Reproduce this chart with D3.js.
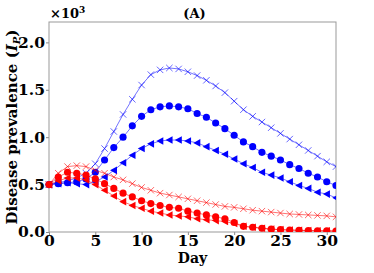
<!DOCTYPE html>
<html>
<head>
<meta charset="utf-8">
<script src="https://cdn.jsdelivr.net/npm/d3@7"></script>
<style>
  body { margin: 0; background: #fff; }
  text { font-family: "DejaVu Serif", serif; font-weight: bold; }
</style>
</head>
<body>
<div id="chart"></div>
<script>
// values in thousands
const days = d3.range(0, 32);
const blueCross = [0.50, 0.52, 0.54, 0.57, 0.62, 0.72, 0.88, 1.06, 1.24, 1.40, 1.55, 1.66, 1.71, 1.73, 1.72, 1.69,
  1.65, 1.60, 1.54, 1.47, 1.38, 1.29, 1.22, 1.16, 1.10, 1.04, 0.98, 0.92, 0.86, 0.80, 0.74, 0.69];
const blueCircle = [0.50, 0.51, 0.52, 0.53, 0.56, 0.63, 0.76, 0.89, 1.00, 1.12, 1.22, 1.29, 1.32, 1.33, 1.32, 1.30,
  1.25, 1.21, 1.15, 1.09, 1.02, 0.95, 0.90, 0.84, 0.80, 0.76, 0.71, 0.67, 0.62, 0.58, 0.53, 0.49];
const blueTri = [0.50, 0.51, 0.52, 0.51, 0.50, 0.53, 0.58, 0.65, 0.73, 0.81, 0.88, 0.93, 0.96, 0.97, 0.97, 0.96,
  0.94, 0.90, 0.86, 0.82, 0.77, 0.72, 0.68, 0.63, 0.60, 0.57, 0.53, 0.49, 0.46, 0.42, 0.40, 0.36];
const redCross = [0.50, 0.62, 0.69, 0.70, 0.69, 0.65, 0.62, 0.58, 0.55, 0.51, 0.47, 0.44, 0.41, 0.39, 0.37, 0.35,
  0.33, 0.31, 0.29, 0.27, 0.26, 0.245, 0.23, 0.22, 0.21, 0.20, 0.19, 0.185, 0.18, 0.175, 0.17, 0.16];
const redCircle = [0.50, 0.58, 0.63, 0.62, 0.60, 0.56, 0.51, 0.46, 0.41, 0.37, 0.33, 0.30, 0.28, 0.26, 0.25, 0.22,
  0.20, 0.18, 0.16, 0.14, 0.10, 0.06, 0.05, 0.04, 0.03, 0.025, 0.02, 0.018, 0.015, 0.013, 0.012, 0.01];
const redTri = [0.50, 0.54, 0.57, 0.57, 0.55, 0.50, 0.44, 0.38, 0.32, 0.28, 0.25, 0.22, 0.20, 0.18, 0.17, 0.16,
  0.14, 0.13, 0.12, 0.11, 0.09, 0.06, 0.05, 0.04, 0.03, 0.025, 0.02, 0.018, 0.015, 0.013, 0.012, 0.01];

const xTicks = [0, 5, 10, 15, 20, 25, 30];
const yTicks = [0, 0.5, 1.0, 1.5, 2.0];

const series = [
  { values: blueCross, color: "blue", marker: "cross" },
  { values: blueCircle, color: "blue", marker: "circle" },
  { values: blueTri, color: "blue", marker: "tri" },
  { values: redCross, color: "red", marker: "cross" },
  { values: redCircle, color: "red", marker: "circle" },
  { values: redTri, color: "red", marker: "tri" }
];

const W = 374, H = 273;
const margin = { top: 22, right: 38, bottom: 41, left: 49 };
const width = W - margin.left - margin.right;
const height = H - margin.top - margin.bottom;

const svg = d3.select("#chart").append("svg")
  .attr("width", W).attr("height", H);

const g = svg.append("g")
  .attr("transform", "translate(" + margin.left + "," + margin.top + ")");

const x = d3.scaleLinear().domain([0, 31]).range([0, width]);
const y = d3.scaleLinear().domain([0, 2.215]).range([height, 0]);

svg.append("clipPath").attr("id", "clip")
  .append("rect").attr("x", -6).attr("y", -6).attr("width", width + 6).attr("height", height + 6);

// x axis
const xAxis = g.append("g")
  .attr("transform", `translate(0,${height})`)
  .call(d3.axisBottom(x).tickValues(xTicks).tickSize(3).tickPadding(0).tickFormat(d3.format("d")));
xAxis.selectAll("text").attr("font-size", 15.5).attr("fill", "#000")
  .style("font-family", "DejaVu Serif").style("font-weight", "bold");

// y axis
const yAxis = g.append("g")
  .call(d3.axisLeft(y).tickValues(yTicks).tickSize(3).tickPadding(1).tickFormat(d3.format(".1f")));
yAxis.selectAll("text").attr("font-size", 15.5).attr("fill", "#000")
  .style("font-family", "DejaVu Serif").style("font-weight", "bold");

[xAxis, yAxis].forEach(a => {
  a.select(".domain").remove();
  a.selectAll("line").attr("stroke", "#888");
});

// frame
g.append("rect")
  .attr("width", width).attr("height", height)
  .attr("fill", "none").attr("stroke", "#999").attr("stroke-width", 1);

const line = d3.line()
  .x((d, i) => x(days[i]))
  .y(d => y(d));

const plot = g.append("g").attr("clip-path", "url(#clip)");

series.forEach(s => {
  const sg = plot.append("g");
  sg.append("path")
    .attr("d", line(s.values))
    .attr("fill", "none")
    .attr("stroke", s.color)
    .attr("stroke-opacity", 0.55)
    .attr("stroke-width", 1);

  const pts = sg.selectAll(".pt")
    .data(s.values)
    .enter()
    .append("path")
    .attr("transform", (d, i) => `translate(${x(days[i])},${y(d)})`);

  if (s.marker === "circle") {
    pts.attr("d", d3.symbol(d3.symbolCircle, 40)).attr("fill", s.color);
  } else if (s.marker === "tri") {
    pts.attr("d", "M-3.8,0L3.2,-3.8L3.2,3.8Z").attr("fill", s.color);
  } else {
    pts.attr("d", "M-3.2,-3.2L3.2,3.2M-3.2,3.2L3.2,-3.2")
      .attr("fill", "none").attr("stroke", s.color)
      .attr("stroke-opacity", 0.6).attr("stroke-width", 1);
  }
});

// multiplier label
const mult = svg.append("text")
  .attr("x", margin.left + 1).attr("y", 18)
  .attr("font-size", 13);
mult.append("tspan").text("×10");
mult.append("tspan").attr("dy", -5).attr("font-size", 9).text("3");

// panel title
svg.append("text")
  .attr("x", margin.left + width / 2 + 2).attr("y", 18)
  .attr("text-anchor", "middle")
  .attr("font-size", 13)
  .text("(A)");

// x label
svg.append("text")
  .attr("x", margin.left + width / 2).attr("y", 263)
  .attr("text-anchor", "middle")
  .attr("font-size", 14)
  .text("Day");

// y label
const yl = svg.append("text")
  .attr("transform", `translate(17,${margin.top + height / 2}) rotate(-90)`)
  .attr("text-anchor", "middle")
  .attr("font-size", 15);
yl.append("tspan").text("Disease prevalence (");
yl.append("tspan").attr("font-style", "italic").text("I");
yl.append("tspan").attr("font-style", "italic").attr("font-size", 10).attr("dy", 3).text("P");
yl.append("tspan").attr("dy", -3).text(")");
</script>
</body>
</html>
